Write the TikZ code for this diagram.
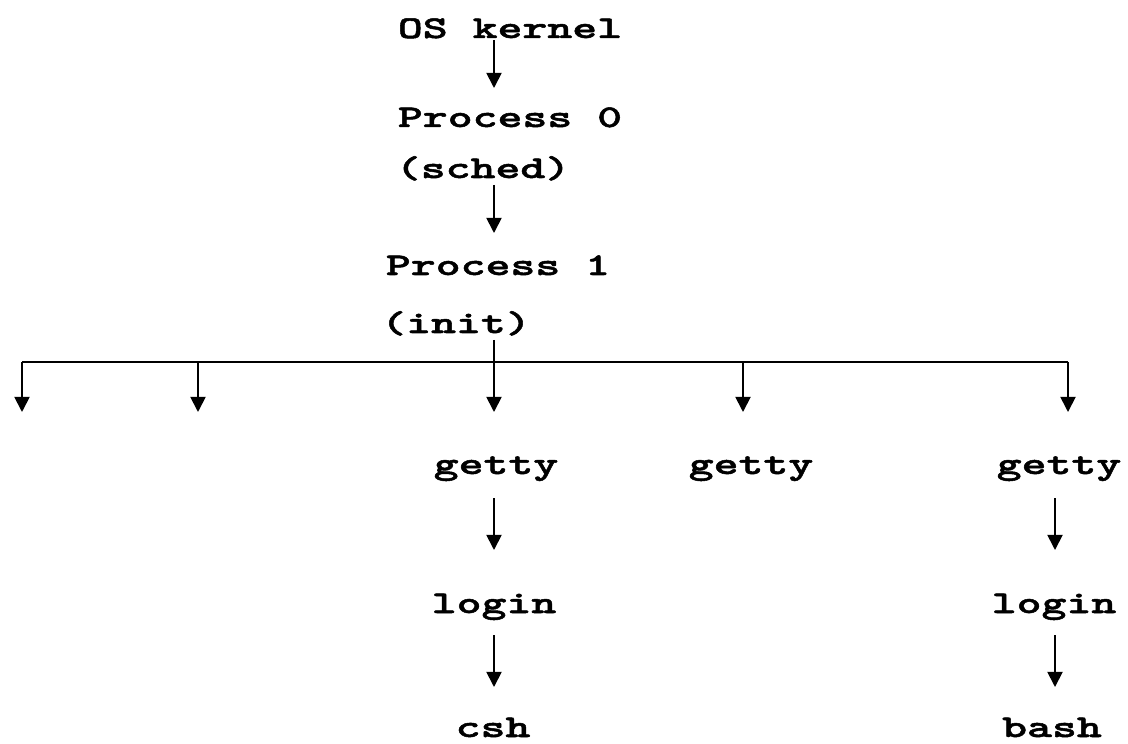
\documentclass[tikz,border=0pt]{standalone}
\usepackage{fontspec}
\newfontfamily\procfont{lmmonolt10-bold.otf}[FakeBold=1.6, FakeStretch=1.5]
\usetikzlibrary{arrows.meta}

\begin{document}
\begin{tikzpicture}[
    lbl/.style={anchor=base, inner sep=0pt, font=\procfont\fontsize{22.5}{27}\selectfont},
    >={Triangle[length=3.8mm, width=3.8mm]}, line width=1.3pt
]
\useasboundingbox (0,0) rectangle (28.2,-18.6);
% labels
\node[lbl] (kernel) at (12.75,-0.95) {OS kernel};
\node[lbl] (proc0) at (12.75,-3.175) {Process 0};
\node[lbl] (sched) at (12.075,-4.45) {(sched)};
\node[lbl] (proc1) at (12.45,-6.875) {Process 1};
\node[lbl] (init) at (11.4,-8.325) {(init)};
\node[lbl] (getty1) at (12.4,-11.85) {getty};
\node[lbl] (getty2) at (18.775,-11.85) {getty};
\node[lbl] (getty3) at (26.475,-11.85) {getty};
\node[lbl] (login1) at (12.35,-15.325) {login};
\node[lbl] (login2) at (26.35,-15.325) {login};
\node[lbl] (csh) at (12.325,-18.425) {csh};
\node[lbl] (bash) at (26.3,-18.425) {bash};
% columns, bar and arrow tips
\coordinate (trunk) at (12.35,0);
\coordinate (rcol) at (26.375,0);
\coordinate (bar) at (0,-9.05);
\coordinate (tips) at (0,-10.3);
\foreach \x [count=\i] in {0.55,4.95,18.575,26.7}
  \coordinate (d\i) at (\x,-9.05);
% arrows
\draw[->] ([yshift=-0.05cm]kernel.base -| trunk) -- ([yshift=0.975cm]proc0.base -| trunk);
\draw[->] ([yshift=-0.175cm]sched.base -| trunk) -- ([yshift=1.05cm]proc1.base -| trunk);
\draw[->] ([yshift=-0.175cm]init.base -| trunk) -- (tips -| trunk);
\draw (d1) -- (d4);
\foreach \i in {1,...,4}
  \draw[->] (d\i) -- (d\i |- tips);
\draw[->] ([yshift=-0.6cm]getty1.base -| trunk) -- ([yshift=1.575cm]login1.base -| trunk);
\draw[->] ([yshift=-0.55cm]login1.base -| trunk) -- ([yshift=1.25cm]csh.base -| trunk);
\draw[->] ([yshift=-0.6cm]getty3.base -| rcol) -- ([yshift=1.575cm]login2.base -| rcol);
\draw[->] ([yshift=-0.55cm]login2.base -| rcol) -- ([yshift=1.25cm]bash.base -| rcol);
\end{tikzpicture}
\end{document}
